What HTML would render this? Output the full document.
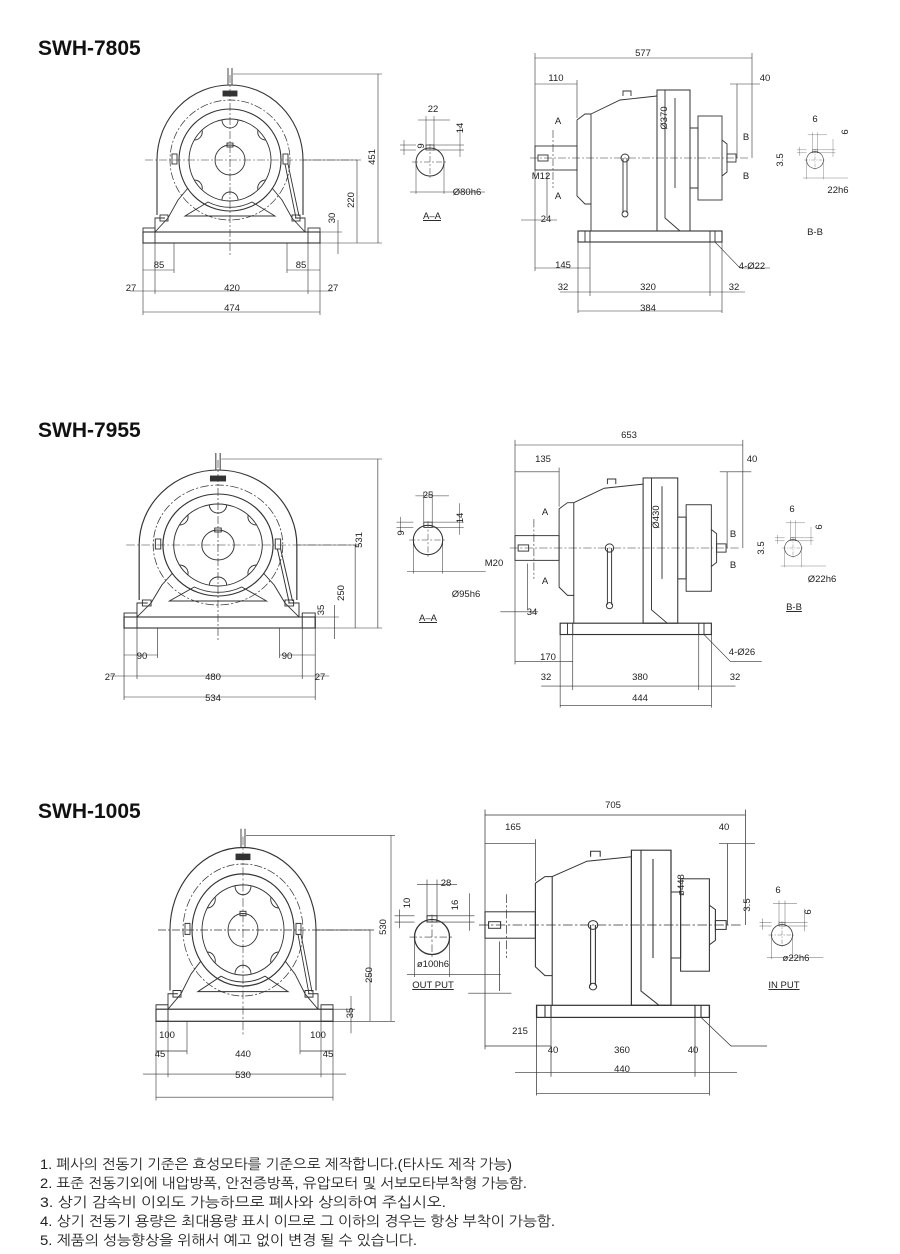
<!DOCTYPE html>
<html><head><meta charset="utf-8"><style>
html,body{margin:0;padding:0;background:#fff}
svg{display:block}
text{font-family:"Liberation Sans","NanumGothic",sans-serif;fill:#222}
.d{font-size:9.5px;text-anchor:middle}
.t{font-size:21px;font-weight:bold;fill:#111}
.n{font-size:14px;fill:#222}
</style></head><body>
<svg width="900" height="1254" viewBox="0 0 900 1254" xmlns="http://www.w3.org/2000/svg">
<defs>
<g id="front" fill="none" stroke="#333" stroke-width="0.9">
  <path d="M-73 55 L-73 0 A73 75 0 0 1 73 0 L73 55" stroke-width="1.1"/>
  <circle r="60" stroke-dasharray="8 2 2 2" stroke-width="0.7"/>
  <circle r="51" stroke-width="1.1"/>
  <circle r="41"/>
  <circle r="15"/>
  <rect x="-3" y="-17" width="6" height="4"/>
  <path d="M-8 -40 A8 8 0 0 0 8 -40 M-8 40 A8 8 0 0 1 8 40 M-36 -20 A8 8 0 0 0 -28 -30 M36 -20 A8 8 0 0 1 28 -30 M-36 20 A8 8 0 0 1 -28 30 M36 20 A8 8 0 0 0 28 30"/>
  <path d="M-75 72 L-62 58 L-52 40 L-42 28 M75 72 L62 58 L52 40 L42 28 M-45 56 L-22 42 A48 48 0 0 0 22 42 L45 56 Z"/>
  <rect x="-87" y="72" width="177" height="11" stroke-width="1.1"/>
  <rect x="-87" y="68" width="12" height="15"/><rect x="78" y="68" width="12" height="15"/>
  <path d="M-75 72 L-75 58 L-65 58 M75 72 L75 58 L65 58"/>
  <rect x="-70" y="55" width="8" height="6"/><rect x="62" y="55" width="8" height="6"/>
  <rect x="-58" y="-6" width="5" height="10"/><rect x="53" y="-6" width="5" height="10"/>
  <path d="M55 4 L66 58 M58 4 L69 56"/>
  <rect x="-7" y="-69" width="14" height="5" fill="#333"/>
  <path d="M-2 -92 L-2 -75 M2 -92 L2 -75"/>
  <path d="M-85 0 L127 0 M0 -85 L0 95" stroke-dasharray="8 2 2 2" stroke-width="0.6"/>
  <g stroke-width="0.6">
  <path d="M3 -86 L152 -86 M148 -86 L148 83 M73 0 L131 0 M127 0 L127 83 M90 83 L152 83 M90 72 L112 72 M108 60 L108 94"/>
  <path d="M-87 83 L-87 155 M90 83 L90 155 M-56 83 L-56 113 M57 83 L57 113 M-75 83 L-75 134 M78 83 L78 134"/>
  <path d="M-87 110 L-56 110 M57 110 L90 110 M-100 131 L103 131 M-87 152 L90 152"/>
  </g>
</g>
<g id="side" fill="none" stroke="#333" stroke-width="0.9">
  <rect x="0" y="-12" width="42" height="24"/>
  <rect x="3" y="-3" width="10" height="6"/>
  <path d="M42 -38 L50 -44 L56 -44 L56 46 L50 46 L42 38 Z"/>
  <path d="M56 -44 L85 -58 L122 -62 M56 46 L56 73 M88 -62 L88 -67 L96 -67 L96 -62"/>
  <rect x="122" y="-68" width="33" height="141" stroke-width="1"/>
  <path d="M130 -68 L130 60 L145 73 M140 -60 L140 30"/>
  <path d="M155 -30 L163 -30 L163 30 L155 30"/>
  <rect x="163" y="-42" width="24" height="84"/>
  <path d="M187 -18 L192 -14 L192 14 L187 18"/>
  <rect x="192" y="-4" width="9" height="8"/>
  <rect x="43" y="73" width="144" height="11" stroke-width="1.1"/>
  <path d="M50 73 L50 84 M55 73 L55 84 M175 73 L175 84 M180 73 L180 84"/>
  <path d="M88 0 L88 55 M92 0 L92 55"/><circle cx="90" cy="0" r="4"/><circle cx="90" cy="56" r="3"/>
  <path d="M-5 0 L215 0 M18 -28 L18 30" stroke-dasharray="8 2 2 2" stroke-width="0.6"/>
  <g stroke-width="0.6">
  <path d="M0 -105 L0 113 M217 -105 L217 0 M0 -100 L217 -100 M0 -74 L42 -74 M42 -78 L42 -40 M195 -74 L225 -74 M202 -74 L202 0"/>
  <path d="M-14 62 L22 62 M12 60 L12 15 M0 110 L55 110 M55 84 L55 138 M43 84 L43 155 M187 84 L187 155 M175 84 L175 138 M25 134 L210 134 M43 153 L187 153 M180 84 L205 110 L235 110"/>
  </g>
</g>
<g id="aa" fill="none" stroke="#333" stroke-width="0.8">
  <circle r="14" stroke-width="1"/>
  <rect x="-4" y="-17" width="8" height="5"/>
  <path d="M-18 0 L18 0 M0 -18 L0 18" stroke-dasharray="6 2 2 2" stroke-width="0.5"/>
  <g stroke-width="0.5"><path d="M-4 -17 L-4 -46 M4 -17 L4 -46 M-12 -42 L20 -42 M4 -17 L34 -17 M4 -12 L34 -12 M30 -35 L30 -5 M-14 -17 L-30 -17 M-14 -12 L-30 -12 M-26 -22 L-26 -7 M-14 0 L-14 32 M14 0 L14 32 M-20 30 L55 30"/></g>
</g>
</defs>

<text class="t" x="38" y="55">SWH-7805</text>
<text class="t" x="38" y="437">SWH-7955</text>
<text class="t" x="38" y="818">SWH-1005</text>

<use href="#front" transform="translate(230,160)"/>
<use href="#side" transform="translate(535,158)"/>
<use href="#aa" transform="translate(430,162)"/>
<use href="#aa" transform="translate(815,160) scale(0.6)"/>

<use href="#front" transform="translate(218,545) scale(1.08,1.0)"/>
<use href="#side" transform="translate(515,548) scale(1.05,1.03)"/>
<use href="#aa" transform="translate(428,540) scale(1.05)"/>
<use href="#aa" transform="translate(793,548) scale(0.6)"/>

<use href="#front" transform="translate(243,930) scale(1.0,1.1)"/>
<use href="#side" transform="translate(485,925) scale(1.2,1.1)"/>
<use href="#aa" transform="translate(432,937) scale(1.25)"/>
<use href="#aa" transform="translate(782,935) scale(0.75)"/>

<g class="d">
<text transform="translate(375,157) rotate(-90)">451</text>
<text transform="translate(354,200) rotate(-90)">220</text>
<text transform="translate(335,218) rotate(-90)">30</text>
<text x="159" y="268">85</text><text x="301" y="268">85</text>
<text x="131" y="291">27</text><text x="333" y="291">27</text>
<text x="232" y="291">420</text><text x="232" y="311">474</text>
<text x="433" y="112">22</text>
<text transform="translate(463,128) rotate(-90)">14</text>
<text transform="translate(424,146) rotate(-90)">9</text>
<text x="467" y="195">Ø80h6</text>
<text x="432" y="219" text-decoration="underline">A–A</text>
<text x="643" y="56">577</text><text x="556" y="81">110</text><text x="765" y="81">40</text>
<text transform="translate(667,118) rotate(-90)">Ø370</text>
<text x="558" y="124">A</text><text x="558" y="199">A</text>
<text x="746" y="140">B</text><text x="746" y="179">B</text>
<text x="541" y="179">M12</text><text x="546" y="222">24</text>
<text x="563" y="268">145</text>
<text x="563" y="290">32</text><text x="648" y="290">320</text><text x="734" y="290">32</text>
<text x="648" y="311">384</text><text x="752" y="269">4-Ø22</text>
<text x="815" y="122">6</text>
<text transform="translate(848,132) rotate(-90)">6</text>
<text transform="translate(783,160) rotate(-90)">3.5</text>
<text x="838" y="193">22h6</text>
<text x="815" y="235">B-B</text>
</g>
<g class="d">
<text transform="translate(362,540) rotate(-90)">531</text>
<text transform="translate(344,593) rotate(-90)">250</text>
<text transform="translate(324,610) rotate(-90)">35</text>
<text x="142" y="659">90</text><text x="287" y="659">90</text>
<text x="110" y="680">27</text><text x="320" y="680">27</text>
<text x="213" y="680">480</text><text x="213" y="701">534</text>
<text x="428" y="498">25</text>
<text transform="translate(463,518) rotate(-90)">14</text>
<text transform="translate(404,533) rotate(-90)">9</text>
<text x="466" y="597">Ø95h6</text>
<text x="428" y="621" text-decoration="underline">A–A</text>
<text x="629" y="438">653</text><text x="543" y="462">135</text><text x="752" y="462">40</text>
<text transform="translate(659,517) rotate(-90)">Ø430</text>
<text x="545" y="515">A</text><text x="545" y="584">A</text>
<text x="733" y="537">B</text><text x="733" y="568">B</text>
<text x="494" y="566">M20</text><text x="532" y="615">34</text>
<text x="548" y="660">170</text>
<text x="546" y="680">32</text><text x="640" y="680">380</text><text x="735" y="680">32</text>
<text x="640" y="701">444</text><text x="742" y="655">4-Ø26</text>
<text x="792" y="512">6</text>
<text transform="translate(822,527) rotate(-90)">6</text>
<text transform="translate(764,548) rotate(-90)">3.5</text>
<text x="822" y="582">Ø22h6</text>
<text x="794" y="610" text-decoration="underline">B-B</text>
</g>
<g class="d">
<text transform="translate(386,927) rotate(-90)">530</text>
<text transform="translate(372,975) rotate(-90)">250</text>
<text transform="translate(353,1013) rotate(-90)">35</text>
<text x="167" y="1038">100</text><text x="318" y="1038">100</text>
<text x="160" y="1057">45</text><text x="328" y="1057">45</text>
<text x="243" y="1057">440</text><text x="243" y="1078">530</text>
<text x="446" y="886">28</text>
<text transform="translate(410,903) rotate(-90)">10</text>
<text transform="translate(458,905) rotate(-90)">16</text>
<text x="433" y="967">ø100h6</text>
<text x="433" y="988" text-decoration="underline">OUT PUT</text>
<text x="613" y="808">705</text><text x="513" y="830">165</text><text x="724" y="830">40</text>
<text transform="translate(684,885) rotate(-90)">ø448</text>
<text x="520" y="1034">215</text>
<text x="553" y="1053">40</text><text x="622" y="1053">360</text><text x="693" y="1053">40</text>
<text x="622" y="1072">440</text>
<text x="778" y="893">6</text>
<text transform="translate(750,905) rotate(-90)">3.5</text>
<text transform="translate(811,912) rotate(-90)">6</text>
<text x="796" y="961">ø22h6</text>
<text x="784" y="988" text-decoration="underline">IN PUT</text>
</g>
<g class="n">
<text x="40" y="1169" textLength="472" lengthAdjust="spacingAndGlyphs">1. 폐사의 전동기 기준은 효성모타를 기준으로 제작합니다.(타사도 제작 가능)</text>
<text x="40" y="1188" textLength="487" lengthAdjust="spacingAndGlyphs">2. 표준 전동기외에 내압방폭, 안전증방폭, 유압모터 및 서보모타부착형 가능함.</text>
<text x="40" y="1207" textLength="406" lengthAdjust="spacingAndGlyphs">3. 상기 감속비 이외도 가능하므로 폐사와 상의하여 주십시오.</text>
<text x="40" y="1226" textLength="515" lengthAdjust="spacingAndGlyphs">4. 상기 전동기 용량은 최대용량 표시 이므로 그 이하의 경우는 항상 부착이 가능함.</text>
<text x="40" y="1245" textLength="377" lengthAdjust="spacingAndGlyphs">5. 제품의 성능향상을 위해서 예고 없이 변경 될 수 있습니다.</text>
</g>
</svg>
</body></html>
